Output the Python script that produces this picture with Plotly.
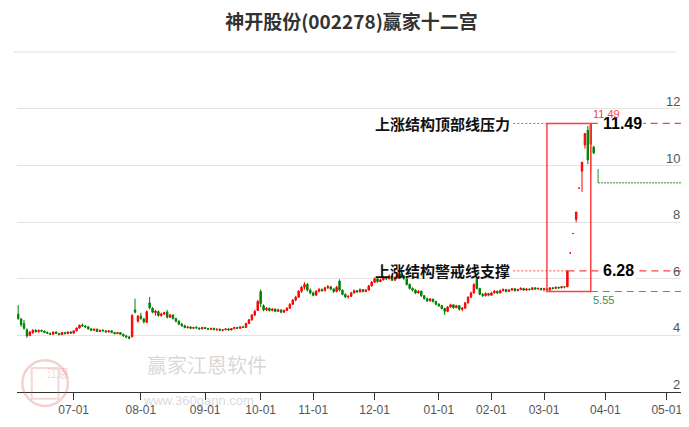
import pandas as pd
import plotly.graph_objects as go

# ---------------- data ----------------
holidays = ["2024-06-10", "2024-09-16", "2024-09-17", "2024-10-01", "2024-10-02",
            "2024-10-03", "2024-10-04", "2024-10-07", "2025-01-01", "2025-01-28",
            "2025-01-29", "2025-01-30", "2025-01-31", "2025-02-03", "2025-02-04",
            "2025-04-04", "2025-05-01", "2025-05-02", "2025-05-05"]

opens = [4.75, 4.58, 4.42, 4.20, 4.00, 4.10, 4.18, 4.13, 4.18, 4.15,
         4.10, 4.07, 4.04, 4.12, 4.07, 4.03, 4.10, 4.06, 4.12, 4.08,
         4.16, 4.26, 4.36, 4.33, 4.30, 4.23, 4.18, 4.22, 4.14, 4.18,
         4.16, 4.12, 4.16, 4.10, 4.06, 4.10, 4.04, 3.98, 3.94, 3.95,
         4.90, 4.50, 4.68, 4.58, 4.46, 5.15, 4.96, 4.80, 4.84, 4.70,
         4.76, 4.82, 4.64, 4.72, 4.60, 4.50, 4.40, 4.34, 4.28, 4.30,
         4.25, 4.28, 4.26, 4.23, 4.28, 4.24, 4.22, 4.25, 4.20, 4.22,
         4.18, 4.20, 4.23, 4.19, 4.24, 4.28, 4.25, 4.30, 4.28, 4.42,
         4.55, 4.72, 4.88, 5.55, 5.05, 4.90, 4.96, 4.88, 4.93, 4.85,
         4.90, 4.82, 4.88, 4.96, 5.10, 5.25, 5.35, 5.56, 5.70, 5.80,
         5.60, 5.50, 5.42, 5.56, 5.62, 5.58, 5.68, 5.72, 5.64, 5.55,
         5.92, 5.60, 5.45, 5.36, 5.38, 5.50, 5.58, 5.54, 5.62, 5.55,
         5.60, 5.75, 5.88, 6.00, 5.90, 5.96, 6.05, 6.00, 6.10, 5.95,
         6.05, 6.15, 6.10, 6.00, 5.80, 5.66, 5.60, 5.50, 5.56, 5.40,
         5.30, 5.22, 5.28, 5.20, 5.10, 5.05, 4.95, 4.85, 5.00, 5.08,
         4.98, 5.05, 4.92, 4.96, 5.15, 5.35, 5.50, 5.98, 5.66, 5.45,
         5.40, 5.48, 5.42, 5.50, 5.56, 5.50, 5.58, 5.62, 5.55, 5.60,
         5.65, 5.58, 5.62, 5.66, 5.60, 5.64, 5.62, 5.68, 5.64, 5.66,
         5.62, 5.65, 5.60, 5.68, 5.66, 5.70, 5.68, 5.72, 5.72, 6.91,
         7.60, 8.10, 9.20, 9.80, 10.73, 11.25, 10.75, 10.65]
highs = [5.07, 4.62, 4.55, 4.25, 4.15, 4.22, 4.22, 4.20, 4.20, 4.17,
         4.14, 4.10, 4.14, 4.14, 4.09, 4.12, 4.12, 4.14, 4.15, 4.18,
         4.28, 4.38, 4.42, 4.36, 4.33, 4.26, 4.24, 4.24, 4.20, 4.22,
         4.19, 4.18, 4.18, 4.13, 4.12, 4.12, 4.06, 4.02, 3.98, 4.75,
         5.30, 4.72, 4.80, 4.62, 4.88, 5.36, 5.00, 4.90, 4.88, 4.80,
         4.84, 4.90, 4.76, 4.74, 4.62, 4.54, 4.44, 4.38, 4.34, 4.32,
         4.30, 4.33, 4.28, 4.30, 4.30, 4.27, 4.26, 4.27, 4.24, 4.24,
         4.22, 4.25, 4.25, 4.26, 4.30, 4.30, 4.32, 4.34, 4.45, 4.58,
         4.75, 4.90, 5.25, 5.62, 5.10, 5.00, 4.98, 4.96, 4.95, 4.94,
         4.92, 4.92, 5.00, 5.14, 5.28, 5.40, 5.60, 5.75, 5.88, 5.85,
         5.66, 5.55, 5.60, 5.68, 5.66, 5.72, 5.78, 5.74, 5.66, 5.75,
         5.98, 5.62, 5.48, 5.42, 5.54, 5.62, 5.60, 5.66, 5.64, 5.64,
         5.78, 5.92, 6.05, 6.04, 6.00, 6.10, 6.08, 6.15, 6.12, 6.08,
         6.20, 6.18, 6.14, 6.02, 5.84, 5.70, 5.64, 5.60, 5.58, 5.42,
         5.34, 5.32, 5.30, 5.22, 5.14, 5.08, 4.98, 5.04, 5.12, 5.10,
         5.08, 5.07, 5.00, 5.18, 5.38, 5.55, 5.84, 6.05, 5.68, 5.50,
         5.52, 5.50, 5.54, 5.60, 5.58, 5.62, 5.66, 5.64, 5.64, 5.68,
         5.67, 5.65, 5.70, 5.68, 5.67, 5.66, 5.71, 5.70, 5.69, 5.68,
         5.68, 5.67, 5.70, 5.70, 5.73, 5.72, 5.75, 5.74, 6.28, 6.91,
         7.60, 8.36, 9.20, 10.12, 11.13, 11.40, 11.49, 10.70]
lows = [4.55, 4.30, 4.20, 3.92, 3.97, 4.05, 4.10, 4.10, 4.12, 4.08,
        4.05, 4.02, 4.02, 4.05, 4.00, 4.01, 4.04, 4.05, 4.06, 4.07,
        4.14, 4.24, 4.30, 4.26, 4.20, 4.15, 4.16, 4.12, 4.12, 4.14,
        4.10, 4.11, 4.08, 4.04, 4.05, 4.02, 3.95, 3.90, 3.86, 3.93,
        4.78, 4.45, 4.55, 4.42, 4.44, 4.92, 4.78, 4.70, 4.66, 4.66,
        4.72, 4.60, 4.62, 4.56, 4.46, 4.36, 4.30, 4.25, 4.24, 4.22,
        4.22, 4.24, 4.20, 4.21, 4.22, 4.19, 4.18, 4.18, 4.16, 4.15,
        4.14, 4.18, 4.17, 4.18, 4.22, 4.22, 4.23, 4.26, 4.27, 4.40,
        4.52, 4.68, 4.86, 5.00, 4.85, 4.86, 4.84, 4.85, 4.82, 4.83,
        4.78, 4.80, 4.86, 4.94, 5.08, 5.20, 5.32, 5.50, 5.62, 5.55,
        5.45, 5.38, 5.40, 5.52, 5.54, 5.56, 5.64, 5.60, 5.50, 5.52,
        5.55, 5.42, 5.32, 5.30, 5.36, 5.48, 5.50, 5.52, 5.52, 5.53,
        5.58, 5.72, 5.85, 5.86, 5.88, 5.94, 5.95, 5.98, 5.92, 5.93,
        6.02, 6.05, 5.95, 5.76, 5.62, 5.55, 5.46, 5.48, 5.36, 5.26,
        5.18, 5.20, 5.16, 5.06, 5.00, 4.92, 4.72, 4.83, 4.98, 4.94,
        4.96, 4.88, 4.85, 4.94, 5.12, 5.32, 5.48, 5.62, 5.42, 5.36,
        5.38, 5.38, 5.40, 5.48, 5.46, 5.48, 5.55, 5.52, 5.53, 5.58,
        5.55, 5.56, 5.60, 5.57, 5.58, 5.58, 5.60, 5.61, 5.62, 5.58,
        5.55, 5.57, 5.58, 5.62, 5.64, 5.64, 5.66, 5.66, 5.70, 6.91,
        7.60, 8.00, 9.20, 9.07, 10.60, 10.05, 9.77, 10.40]
closes = [4.60, 4.38, 4.25, 3.98, 4.12, 4.18, 4.13, 4.18, 4.15, 4.10,
          4.07, 4.04, 4.12, 4.07, 4.03, 4.10, 4.06, 4.12, 4.08, 4.16,
          4.26, 4.36, 4.33, 4.30, 4.23, 4.18, 4.22, 4.14, 4.18, 4.16,
          4.12, 4.16, 4.10, 4.06, 4.10, 4.04, 3.98, 3.94, 3.90, 4.70,
          4.82, 4.68, 4.60, 4.48, 4.84, 4.98, 4.82, 4.86, 4.70, 4.76,
          4.80, 4.64, 4.72, 4.60, 4.50, 4.40, 4.34, 4.28, 4.30, 4.25,
          4.28, 4.26, 4.23, 4.28, 4.24, 4.22, 4.25, 4.20, 4.22, 4.18,
          4.20, 4.23, 4.19, 4.24, 4.28, 4.25, 4.30, 4.28, 4.42, 4.55,
          4.72, 4.85, 5.20, 5.12, 4.90, 4.96, 4.88, 4.93, 4.85, 4.90,
          4.82, 4.88, 4.96, 5.10, 5.25, 5.35, 5.56, 5.70, 5.80, 5.60,
          5.50, 5.42, 5.56, 5.62, 5.58, 5.68, 5.72, 5.64, 5.55, 5.70,
          5.60, 5.45, 5.36, 5.38, 5.50, 5.58, 5.54, 5.62, 5.55, 5.60,
          5.75, 5.88, 6.00, 5.90, 5.96, 6.05, 6.00, 6.10, 5.95, 6.05,
          6.15, 6.10, 6.02, 5.80, 5.66, 5.60, 5.50, 5.56, 5.40, 5.30,
          5.22, 5.28, 5.20, 5.10, 5.05, 4.95, 4.85, 5.00, 5.08, 4.98,
          5.05, 4.92, 4.96, 5.15, 5.35, 5.50, 5.80, 5.66, 5.45, 5.40,
          5.48, 5.42, 5.50, 5.56, 5.50, 5.58, 5.62, 5.55, 5.60, 5.65,
          5.58, 5.62, 5.66, 5.60, 5.64, 5.62, 5.68, 5.64, 5.66, 5.62,
          5.65, 5.60, 5.68, 5.66, 5.70, 5.68, 5.72, 5.71, 6.28, 6.91,
          7.60, 8.36, 9.20, 10.12, 11.13, 10.20, 11.45, 10.45]

y_ticks = [2, 4, 6, 8, 10, 12]
top_price = 11.49        # 上涨结构顶部线压力
support_price = 6.28     # 上涨结构警戒线支撑
box_low = 5.55
box_bars = [181, 196]    # bar index of box start / end (peak bar)
support_bar = 188        # bar of the 6.28 break-out
stop_line = [9.88, 9.39]  # green stop-line start / level
label_bar = 169          # where the level lines start (after the text)

# ---------------- axes helpers ----------------
days = [d for d in pd.bdate_range("2024-06-03", "2025-05-30")
        if d.strftime("%Y-%m-%d") not in holidays]
tick_idx, tick_txt = [], []
for i, d in enumerate(days):
    if i > 0 and d.month != days[i - 1].month:
        tick_idx.append(i)
        tick_txt.append(d.strftime("%m-01"))
tick_idx, tick_txt = tick_idx[:11], tick_txt[:11]

n = len(closes)
x = list(range(n))
x_max = 228.6

RED = "#ff0000"
GREEN = "#008000"
LRED = "#ff4040"
LGREEN = "#5a9a5a"

fig = go.Figure()
fig.add_trace(go.Candlestick(
    x=x, open=opens, high=highs, low=lows, close=closes,
    increasing=dict(line=dict(color=RED, width=1), fillcolor=RED),
    decreasing=dict(line=dict(color=GREEN, width=1), fillcolor=GREEN),
    whiskerwidth=0, showlegend=False, hoverinfo="skip"))

shapes = []
# level lines
for lvl, end_bar in [(top_price, box_bars[1]), (support_price, support_bar)]:
    shapes.append(dict(type="line", xref="x", yref="y", x0=label_bar + 0.5, x1=end_bar,
                       y0=lvl, y1=lvl, line=dict(color=LRED, width=1, dash="2px,2px")))
    shapes.append(dict(type="line", xref="x", yref="y", x0=end_bar, x1=x_max,
                       y0=lvl, y1=lvl, line=dict(color=LRED, width=1.2, dash="7px,5px")))
# box
shapes.append(dict(type="rect", xref="x", yref="y", x0=box_bars[0], x1=box_bars[1],
                   y0=box_low, y1=top_price, line=dict(color=LRED, width=1.5)))
# 5.55 green dashed
shapes.append(dict(type="line", xref="x", yref="y", x0=box_bars[1], x1=x_max,
                   y0=box_low, y1=box_low, line=dict(color=LGREEN, width=1.2, dash="7px,5px")))
# stop line
shapes.append(dict(type="line", xref="x", yref="y", x0=n + 0.5, x1=n + 0.5,
                   y0=stop_line[0], y1=stop_line[1], line=dict(color="#2e8b2e", width=1)))
shapes.append(dict(type="line", xref="x", yref="y", x0=n + 0.5, x1=x_max,
                   y0=stop_line[1], y1=stop_line[1], line=dict(color="#2e8b2e", width=1, dash="2px,1px")))
# title separator
shapes.append(dict(type="line", xref="paper", yref="paper", x0=-0.006, x1=0.984,
                   y0=1.024, y1=1.024, line=dict(color="#e0e0e0", width=1)))
# watermark stamp
shapes.append(dict(type="circle", xref="paper", yref="paper", x0=0.008, x1=0.076,
                   y0=-0.042, y1=0.096, line=dict(color="rgba(210,90,90,0.28)", width=2.5)))
shapes.append(dict(type="rect", xref="paper", yref="paper", x0=0.022, x1=0.062,
                   y0=-0.020, y1=0.072, line=dict(color="rgba(210,90,90,0.25)", width=2)))

CJK = "Noto Sans CJK SC"
annotations = [
    dict(text="上涨结构顶部线压力", x=label_bar, y=top_price, xref="x", yref="y",
         xanchor="right", yanchor="middle", showarrow=False,
         font=dict(family=CJK, size=15, color="#111", weight="bold")),
    dict(text="上涨结构警戒线支撑", x=label_bar, y=support_price, xref="x", yref="y",
         xanchor="right", yanchor="middle", showarrow=False,
         font=dict(family=CJK, size=15, color="#111", weight="bold")),
    dict(text=f"{top_price:.2f}", x=n + 1.5, y=top_price, xref="x", yref="y",
         xanchor="left", yanchor="middle", showarrow=False, bgcolor="white",
         font=dict(family="Liberation Sans", size=16, color="#000", weight="bold")),
    dict(text=f"{support_price:.2f}", x=n + 1.5, y=support_price, xref="x", yref="y",
         xanchor="left", yanchor="middle", showarrow=False, bgcolor="white",
         font=dict(family="Liberation Sans", size=16, color="#000", weight="bold")),
    dict(text=f"{max(highs):.2f}", x=box_bars[1], y=max(highs), xref="x", yref="y",
         xanchor="left", yanchor="bottom", showarrow=False, yshift=1,
         font=dict(family="Liberation Sans", size=11, color=LRED)),
    dict(text=f"{box_low:.2f}", x=box_bars[1], y=box_low, xref="x", yref="y",
         xanchor="left", yanchor="top", showarrow=False,
         font=dict(family="Liberation Sans", size=11, color="#4a8a4a")),
    # watermark
    dict(text="赢家江恩软件", x=0.191, y=0.033, xref="paper", yref="paper",
         showarrow=False, font=dict(family=CJK, size=20, color="rgba(140,140,140,0.35)")),
    dict(text="www.360gann.com", x=0.186, y=-0.054, xref="paper", yref="paper",
         showarrow=False, font=dict(family="Liberation Sans", size=13, color="rgba(140,140,140,0.35)")),
    dict(text="江恩", x=0.042, y=0.026, xref="paper", yref="paper",
         showarrow=False, font=dict(family=CJK, size=11, color="rgba(210,90,90,0.3)")),
]
# right-side price labels, sitting just above each grid line
for v in y_ticks:
    annotations.append(dict(text=str(v), x=1, y=v, xref="paper", yref="y",
                            xanchor="right", yanchor="bottom", showarrow=False,
                            yshift=-2, xshift=-4,
                            font=dict(family="Liberation Sans", size=13, color="#555")))

# the page adds an 8px body margin; the figure is sized to fit the window with it
fig.update_layout(
    width=681, height=411,
    margin=dict(l=9, r=3, t=52, b=27),
    paper_bgcolor="white", plot_bgcolor="white",
    title=dict(text="神开股份(002278)赢家十二宫", x=0.5, xref="paper", xanchor="center",
               y=1 - 14 / 411, yref="container", yanchor="middle",
               font=dict(family=CJK, size=19, color="#333", weight="bold")),
    shapes=shapes, annotations=annotations,
    xaxis=dict(range=[-0.4, x_max], tickvals=tick_idx, ticktext=tick_txt,
               showgrid=False, zeroline=False, showline=True, linecolor="#333", linewidth=1,
               ticks="outside", ticklen=7, tickcolor="#333",
               tickfont=dict(family="Liberation Sans", size=12, color="#555"),
               rangeslider=dict(visible=False)),
    yaxis=dict(side="right", range=[2, 13.73], tickvals=y_ticks,
               showgrid=True, gridcolor="#e3e3e3", gridwidth=1, zeroline=False,
               showline=False, ticks="", showticklabels=False),
)

fig.write_html("out.html")
